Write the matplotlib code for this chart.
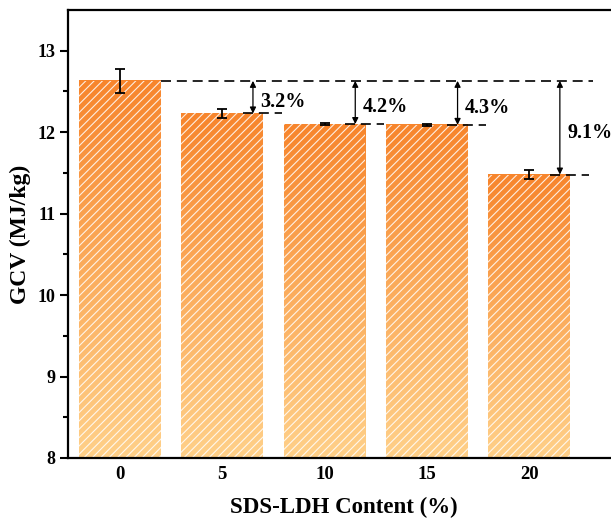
import numpy as np
import matplotlib
matplotlib.use('Agg')
import matplotlib.pyplot as plt
from matplotlib.colors import LinearSegmentedColormap

# Data
content = ['0', '5', '10', '15', '20']
gcv = [12.63, 12.23, 12.10, 12.09, 11.48]
gcv_err = [0.15, 0.05, 0.01, 0.01, 0.05]
drop_labels = ['3.2%', '4.2%', '4.3%', '9.1%']

plt.rcParams['font.family'] = ['Liberation Serif', 'DejaVu Serif']
plt.rcParams['font.weight'] = 'bold'
plt.rcParams['hatch.linewidth'] = 0.8

fig = plt.figure(figsize=(6.11, 5.2), dpi=100)
ax = fig.add_axes([68 / 611, 62 / 520, 552 / 611, 448 / 520])

x = np.arange(len(content))
width = 0.8
ymin = 8.0

# gradient fill, light at bottom to orange at top
cmap = LinearSegmentedColormap.from_list('bar_grad', ['#FFD089', '#FBAC5C', '#F7852C'])
grad = np.linspace(0, 1, 256).reshape(-1, 1)
for xi, h in zip(x, gcv):
    ax.imshow(grad, extent=[xi - width / 2, xi + width / 2, ymin, h],
              aspect='auto', cmap=cmap, origin='lower', zorder=1)

# white diagonal hatch over the gradient
ax.bar(x, np.array(gcv) - ymin, width, bottom=ymin, facecolor='none',
       edgecolor=(1, 1, 1, 0.85), hatch='////', linewidth=0, zorder=2)

# error bars
ax.errorbar(x, gcv, yerr=gcv_err, fmt='none', ecolor='black',
            elinewidth=1.3, capsize=3.3, capthick=1.3, zorder=4)

# reference dashed lines
dash = (0, (6, 3.5))
ax.plot([x[0] + width / 2, x[-1] + 0.62], [gcv[0], gcv[0]], color='black',
        lw=1.2, linestyle=dash, zorder=3)
for xi, h in zip(x[1:], gcv[1:]):
    ax.plot([xi + 0.2, xi + 0.58], [h, h], color='black', lw=1.2,
            linestyle=dash, zorder=3)

# arrows with percentage drop
for xi, h, lab in zip(x[1:], gcv[1:], drop_labels):
    ax.annotate('', xy=(xi + 0.3, h), xytext=(xi + 0.3, gcv[0]),
                arrowprops=dict(arrowstyle='<|-|>', color='black', lw=0.9,
                                mutation_scale=9, shrinkA=0, shrinkB=0),
                zorder=5)
    ax.text(xi + 0.37, (h + gcv[0]) / 2 - 0.06, lab, fontsize=14.5,
            fontweight='bold', va='center', ha='left', zorder=5)

ax.set_xlim(-0.508, -0.508 + 552 / 102.3)
ax.set_ylim(ymin, 13.5)
ax.set_xticks(x)
ax.set_xticklabels(content)
ax.set_yticks([8, 9, 10, 11, 12, 13])
ax.set_yticks(np.arange(8.5, 13.5, 1.0), minor=True)

ax.tick_params(axis='x', length=0, pad=6, labelsize=13.5)
ax.tick_params(axis='y', which='major', direction='out', length=6, width=1.5,
               pad=3, labelsize=13)
ax.tick_params(axis='y', which='minor', direction='out', length=3.5, width=1.5)

for s in ['left', 'bottom', 'top']:
    ax.spines[s].set_linewidth(1.6)
ax.spines['right'].set_visible(False)

ax.set_xlabel('SDS-LDH Content (%)', fontsize=16.5, fontweight='bold', labelpad=10)
ax.set_ylabel('GCV (MJ/kg)', fontsize=17, fontweight='bold', labelpad=5)

fig.savefig('out.png', dpi=100)
